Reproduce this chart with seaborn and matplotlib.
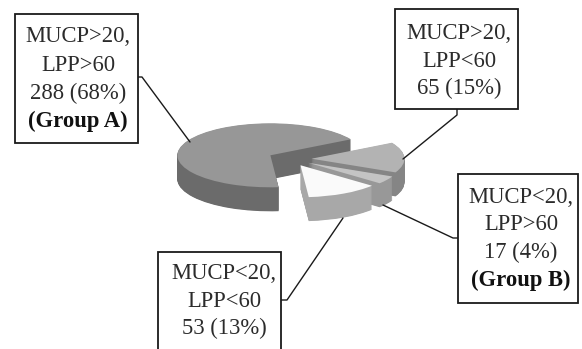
import matplotlib
matplotlib.use("Agg")
import matplotlib.pyplot as plt
from matplotlib.patches import Rectangle
import seaborn as sns

# Slices in pie order (counter-clockwise from the 30 degree start)
mucp = ["MUCP>20,", "MUCP<20,", "MUCP<20,", "MUCP>20,"]
lpp = ["LPP>60", "LPP<60", "LPP>60", "LPP<60"]
counts = [288, 53, 17, 65]
percents = [68, 13, 4, 15]
groups = ["(Group A)", None, "(Group B)", None]

# Styling
top_colors = ["#979797", "#fafafa", "#c4c4c4", "#b3b3b3"]
side_colors = ["#6b6b6b", "#a8a8a8", "#989898", "#858585"]
explode = [0.25, 0.22, 0.22, 0.22]
draw_rank = [0, 3, 2, 1]          # back-to-front painting order

sns.set_theme(style="white")
plt.rcParams["font.family"] = ["Liberation Serif", "DejaVu Serif"]

W, H = 582, 349
fig = plt.figure(figsize=(W / 100, H / 100), dpi=100)
fig.patch.set_facecolor("white")
ax = fig.add_axes([0, 0, 1, 1])

# Tilted 3-D pie: the disc is squashed vertically by the axis limits,
# and the thickness is built from stacked copies of the pie.
RX, RY = 93.0, 32.0      # pixels per data unit (x, y)
CX, CY = 291.0, 159.0    # pie centre in pixels
depth = 0.75
n_layers = 48
for k in range(n_layers, -1, -1):
    d = depth * k / n_layers
    wedges, _ = ax.pie(
        counts, explode=explode, startangle=30, counterclock=True,
        center=(0, -d),
        colors=top_colors if k == 0 else side_colors,
        wedgeprops=dict(linewidth=0),
    )
    for i, w in enumerate(wedges):
        w.set_zorder(draw_rank[i] * 1000 + (n_layers - k) + 1)

ax.set_aspect("auto")
ax.set_xlim(-CX / RX, (W - CX) / RX)
ax.set_ylim(-(H - CY) / RY, CY / RY)
ax.axis("off")

# Callout boxes in pixel coordinates
ov = fig.add_axes([0, 0, 1, 1], facecolor="none")
ov.set_xlim(0, W)
ov.set_ylim(H, 0)
ov.axis("off")

boxes = [
    dict(rect=(15, 14, 123, 129), x=78, base=[42, 71, 99.5, 127],
         leader=[(138, 77), (142, 77), (190, 142)]),
    dict(rect=(158, 252, 123, 110), x=224, base=[279, 307, 334],
         leader=[(281, 300), (287, 300), (343, 218)]),
    dict(rect=(458, 174, 120, 129), x=521, base=[203, 230.5, 258, 286],
         leader=[(458, 238), (453, 238), (383, 205)]),
    dict(rect=(395, 9, 123, 100), x=459, base=[39, 67, 94],
         leader=[(457, 109), (457, 115), (403, 159)]),
]

fs = 16.3
for i, b in enumerate(boxes):
    x0, y0, bw, bh = b["rect"]
    ov.add_patch(Rectangle((x0, y0), bw, bh, facecolor="white",
                           edgecolor="#1a1a1a", linewidth=1.3, zorder=3))
    lx, ly = zip(*b["leader"])
    ov.plot(lx, ly, color="#1a1a1a", linewidth=1.0, zorder=2)
    lines = [mucp[i], lpp[i], f"{counts[i]} ({percents[i]}%)"]
    for j, txt in enumerate(lines):
        ov.text(b["x"], b["base"][j], txt, ha="center", va="baseline",
                fontsize=fs, color="#2b2b2b", zorder=4)
    if groups[i]:
        ov.text(b["x"], b["base"][3], groups[i], ha="center", va="baseline",
                fontsize=fs, fontweight="bold", color="#111111", zorder=4)

fig.savefig("out.png", dpi=100)
